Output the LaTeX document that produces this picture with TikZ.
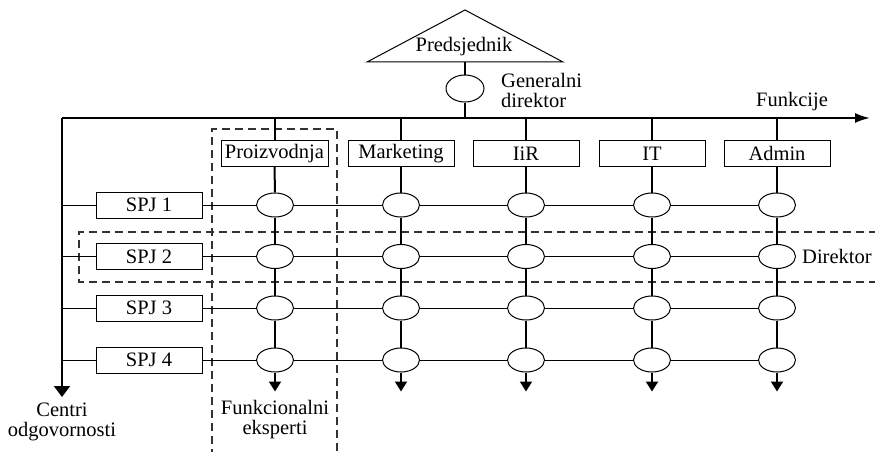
\documentclass[tikz,border=0pt]{standalone}
\usepackage{fontspec}
\setmainfont{Liberation Serif}
\usetikzlibrary{arrows.meta,shapes.geometric}

\tikzset{
  lbl/.style={font=\fontsize{20.5}{20}\selectfont, inner sep=0pt},
  funcbox/.style={draw, line width=1pt, minimum width=106pt, minimum height=26pt, inner sep=0pt, font=\fontsize{20.5}{20}\selectfont},
  unitbox/.style={draw, line width=1pt, minimum width=106pt, minimum height=26pt, inner sep=0pt, font=\fontsize{20.5}{20}\selectfont},
  oval/.style={draw, ellipse, line width=1pt, minimum width=37pt, minimum height=24pt, inner sep=0pt},
  heavy/.style={line width=2pt},
  light/.style={line width=1pt},
  group/.style={line width=1.2pt, dash pattern=on 8pt off 5pt, draw=black!80},
  colarrow/.style={-{Triangle[length=10pt,width=12pt]}},
}

\begin{document}
\begin{tikzpicture}[x=1pt,y=-1pt]
\useasboundingbox (0,0) rectangle (875,452);
\clip (0,0) rectangle (875,452);

% president and general director
\coordinate (pbl) at (367,62);
\coordinate (ptop) at (465,10);
\coordinate (pbr) at (563,62);
\draw[light] (pbl) -- (ptop) -- (pbr) -- cycle;
\node[lbl] (pres) at (464,47) {Predsjednik};
\coordinate (pbase) at (465,62);
\node[oval, minimum width=38pt, minimum height=27pt] (gd) at (465,88.5) {};
\node[lbl, anchor=west, align=left] (gdl) at (501,90) {Generalni\\direktor};

% axes: functions and responsibility centres
\coordinate (tl) at (62,118);
\coordinate (tr) at (870,118);
\coordinate (bl) at (62,397);
\draw[heavy, -{Latex[length=15pt,width=10pt]}] (tl) -- (tr);
\draw[heavy, -{Triangle[length=11pt,width=16pt]}] (tl) -- (bl);
\node[lbl, anchor=south] (fk) at (792,111) {Funkcije};
\node[lbl, align=center] (co) at (62,422) {Centri\\odgovornosti};

\draw[heavy] (pbase) -- (gd.north);
\draw[heavy] (gd.south) -- (gd |- tl);

% dashed groupings
\draw[group] (212,470) -- (212,129) -- (337,129) -- (337,470);
\draw[group] (890,232) -- (79,232) -- (79,282) -- (890,282);
\node[lbl, align=center] (fe) at (275,420) {Funkcionalni\\eksperti};
\node[lbl, anchor=west] (dir) at (802,256) {Direktor};

% functional departments
\node[funcbox, minimum width=107pt] (f1) at (274.5,153.5) {Proizvodnja};
\node[funcbox] (f2) at (401,153.5) {Marketing};
\node[funcbox] (f3) at (526,153.5) {IiR};
\node[funcbox] (f4) at (652,153.5) {IT};
\node[funcbox] (f5) at (777,153.5) {Admin};

% strategic business units
\node[unitbox] (s1) at (149,205) {SPJ 1};
\node[unitbox] (s2) at (149,256.5) {SPJ 2};
\node[unitbox] (s3) at (149,308) {SPJ 3};
\node[unitbox] (s4) at (149,360) {SPJ 4};

% matrix of managers
\foreach \r/\y in {1/205,2/256.5,3/308,4/360}{
  \foreach \c/\x in {1/275,2/401,3/526,4/652,5/777}{
    \node[oval] (e\r\c) at (\x,\y) {};
  }
}

% vertical connectors of each function
\foreach \c in {1,...,5}{
  \draw[heavy] (f\c |- tl) -- (f\c.north);
  \draw[heavy] (f\c.south) -- (e1\c.north);
  \draw[heavy] (e1\c.south) -- (e2\c.north);
  \draw[heavy] (e2\c.south) -- (e3\c.north);
  \draw[heavy] (e3\c.south) -- (e4\c.north);
  \draw[heavy, colarrow] (e4\c.south) -- ++(0,19);
}

% horizontal connectors of each unit
\foreach \r in {1,...,4}{
  \draw[light] (s\r.west -| tl) -- (s\r.west);
  \draw[light] (s\r.east) -- (e\r1.west);
  \draw[light] (e\r1.east) -- (e\r2.west);
  \draw[light] (e\r2.east) -- (e\r3.west);
  \draw[light] (e\r3.east) -- (e\r4.west);
  \draw[light] (e\r4.east) -- (e\r5.west);
}
\end{tikzpicture}
\end{document}
